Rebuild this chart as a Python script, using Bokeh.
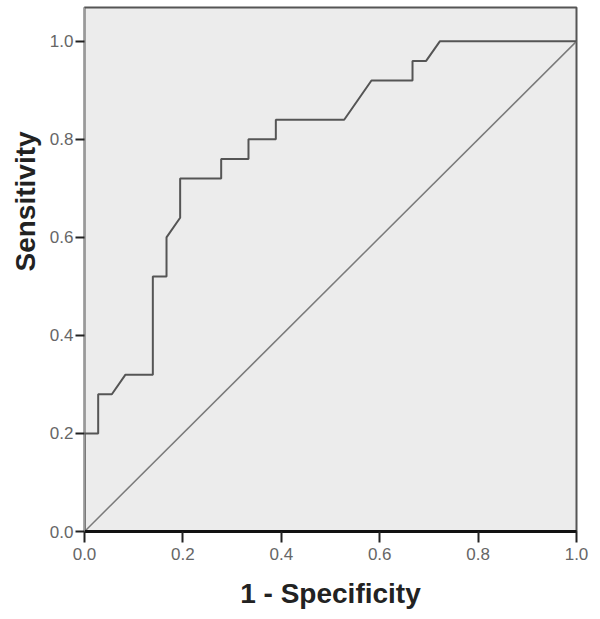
from bokeh.plotting import figure
from bokeh.models import FixedTicker, PrintfTickFormatter, Range1d, Title
from bokeh.embed import file_html
from bokeh.resources import INLINE

# ROC curve (1 - specificity, sensitivity)
fpr = [0.0, 0.0, 0.0278, 0.0278, 0.0556, 0.0833, 0.1389, 0.1389, 0.1667, 0.1667,
       0.1944, 0.1944, 0.2778, 0.2778, 0.3333, 0.3333, 0.3889, 0.3889, 0.5278,
       0.5833, 0.6667, 0.6667, 0.6944, 0.7222, 1.0]
tpr = [0.0, 0.20, 0.20, 0.28, 0.28, 0.32, 0.32, 0.52, 0.52, 0.60,
       0.64, 0.72, 0.72, 0.76, 0.76, 0.80, 0.80, 0.84, 0.84,
       0.92, 0.92, 0.96, 0.96, 1.0, 1.0]
ref_x = [0.0, 1.0]
ref_y = [0.0, 1.0]
ticks = [0.0, 0.2, 0.4, 0.6, 0.8, 1.0]

FONT = "Liberation Sans"

p = figure(width=592, height=611, output_backend="svg", toolbar_location=None,
           x_range=Range1d(0, 1.0), y_range=Range1d(0, 1.069),
           min_border_left=84, min_border_right=16, min_border_top=7, min_border_bottom=76)

p.background_fill_color = "#ececec"
p.border_fill_color = "white"
p.outline_line_color = "#555555"
p.outline_line_width = 2
p.grid.visible = False

p.line(ref_x, ref_y, line_color="#7a7a7a", line_width=1.5)
p.line(fpr, tpr, line_color="#555555", line_width=2)

for ax in (p.xaxis[0], p.yaxis[0]):
    ax.ticker = FixedTicker(ticks=ticks)
    ax.formatter = PrintfTickFormatter(format="%.1f")
    ax.major_label_text_font = FONT
    ax.major_label_text_font_size = "17px"
    ax.major_label_text_color = "#666666"
    ax.minor_tick_line_color = None
    ax.major_tick_in = 0
    ax.major_tick_line_color = "#222222"
    ax.major_tick_line_width = 2

p.xaxis.axis_line_color = "#111111"
p.xaxis.axis_line_width = 3
p.xaxis.major_tick_out = 11
p.xaxis.major_label_standoff = 5
p.xaxis.axis_label = "1 - Specificity"
p.xaxis.axis_label_text_font = FONT
p.xaxis.axis_label_text_font_style = "bold"
p.xaxis.axis_label_text_font_size = "28px"
p.xaxis.axis_label_text_color = "#222222"
p.xaxis.axis_label_standoff = 15

p.yaxis.axis_line_color = "#999999"
p.yaxis.axis_line_width = 1
p.yaxis.major_tick_out = 9
p.yaxis.major_label_standoff = 2

sens = Title(text="Sensitivity", align="left", offset=260, standoff=11,
             text_font=FONT, text_font_style="bold", text_font_size="28px",
             text_color="#222222")
p.add_layout(sens, "left")

open("out.html", "w").write(file_html(p, INLINE))
